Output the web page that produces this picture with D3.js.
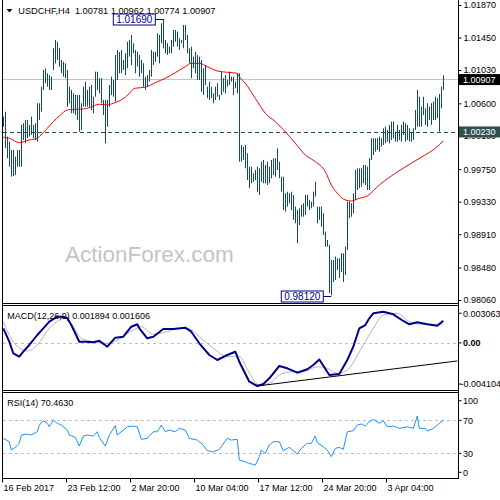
<!DOCTYPE html>
<html><head><meta charset="utf-8">
<script src="https://cdn.jsdelivr.net/npm/d3@7"></script>
<style>
body{margin:0;background:#fff;}
svg{display:block;font-family:"Liberation Sans",Arial,sans-serif;}
</style></head><body>
<svg id="c" width="500" height="500"></svg>
<script>
// ---------- DATA ----------
const symbolTitle = "USDCHF,H4";
const lastOHLC = [1.00781, 1.00962, 1.00774, 1.00907];
const dateIdx = [0, 32, 64, 96, 128, 160, 192];
const dateLabels = ["16 Feb 2017","23 Feb 12:00","2 Mar 20:00","10 Mar 04:00","17 Mar 12:00","24 Mar 20:00","3 Apr 04:00"];
const priceTicks = [1.01870,1.01450,1.01030,1.00600,1.00180,0.99750,0.99330,0.98910,0.98480,0.98060];
const levelLine = 1.00230;
const high = [
1.00428,1.00492,1.00170,1.00105,0.99998,0.99998,0.99911,0.99998,0.99998,1.00321,
1.00343,1.00385,1.00385,1.00321,1.00428,1.00321,1.00343,1.00601,1.00601,1.00815,
1.01031,1.01053,1.00988,1.00966,1.00944,1.01311,1.01418,1.01396,1.01311,1.01160,
1.01138,1.01117,1.01031,1.00815,1.00773,1.00730,1.00708,1.00708,1.00708,1.00601,
1.00815,1.00880,1.00773,1.00815,1.00837,1.00686,1.01009,1.01009,1.00924,1.00924,
1.00644,1.00644,1.00644,1.00837,1.00944,1.00902,1.01225,1.01289,1.01263,1.01289,
1.01160,1.01247,1.01396,1.01418,1.01483,1.01376,1.01289,1.01267,1.01225,1.01160,
1.01117,1.00944,1.00966,1.01031,1.01289,1.01267,1.01267,1.01505,1.01483,1.01634,
1.01690,1.01418,1.01376,1.01332,1.01418,1.01548,1.01548,1.01526,1.01440,1.01418,
1.01612,1.01612,1.01483,1.01311,1.01332,1.01203,1.01267,1.01225,1.01203,1.01160,
1.01053,1.01096,1.00815,1.00880,1.00815,1.00730,1.00815,1.00859,1.00708,1.01009,
1.00924,1.00966,1.00902,1.01009,1.00944,1.00944,1.00880,1.00988,1.00988,1.00062,
1.00040,1.00062,0.99955,0.99782,0.99782,0.99697,0.99739,0.99782,0.99761,0.99847,
0.99869,0.99804,0.99847,0.99782,0.99869,0.99891,0.99891,1.00020,0.99847,0.99653,
0.99653,0.99439,0.99459,0.99439,0.99459,0.99417,0.99266,0.99223,0.99245,0.99287,
0.99309,0.99417,0.99417,0.99352,0.99330,0.99459,0.99588,0.99266,0.99266,0.99266,
0.99180,0.98943,0.98835,0.98771,0.98577,0.98577,0.98620,0.98599,0.98599,0.98664,
0.98664,0.98749,0.99330,0.99330,0.99309,0.99439,0.99739,0.99761,0.99761,0.99761,
0.99804,0.99804,0.99782,0.99891,1.00149,1.00149,1.00149,1.00149,1.00170,1.00149,
1.00278,1.00299,1.00256,1.00321,1.00363,1.00363,1.00234,1.00321,1.00256,1.00321,
1.00363,1.00343,1.00321,1.00278,1.00234,1.00278,1.00514,1.00773,1.00686,1.00557,
1.00686,1.00536,1.00601,1.00557,1.00601,1.00622,1.00686,1.00665,1.00721,1.00815,
1.00962];
const low = [
1.00299,1.00020,0.99891,0.99782,0.99653,0.99662,0.99675,0.99782,0.99782,0.99782,
1.00127,1.00084,1.00149,1.00170,1.00192,1.00149,1.00127,1.00105,1.00385,1.00492,
1.00773,1.00859,1.00815,1.00773,1.00773,1.01031,1.01117,1.01160,1.01074,1.00988,
1.00944,1.00924,1.00557,1.00601,1.00472,1.00472,1.00450,1.00385,1.00234,1.00256,
1.00557,1.00557,1.00557,1.00557,1.00514,1.00472,1.00686,1.00773,1.00730,1.00601,
1.00450,1.00084,1.00299,1.00557,1.00708,1.00686,1.00622,1.00902,1.00988,1.00988,
1.01031,1.00966,1.01053,1.01203,1.01096,1.01247,1.00988,1.01074,1.00944,1.00988,
1.00815,1.00773,1.00815,1.00880,1.00944,1.01096,1.01138,1.01203,1.01117,1.01376,
1.01311,1.01247,1.01225,1.01247,1.01247,1.01332,1.01396,1.01332,1.01289,1.01376,
1.01311,1.01418,1.01247,1.01117,1.00924,1.01053,1.00988,1.00902,1.00902,1.00751,
1.00708,1.00837,1.00665,1.00644,1.00665,1.00601,1.00644,1.00686,1.00644,1.00708,
1.00751,1.00730,1.00815,1.00837,1.00880,1.00708,1.00795,1.00730,0.99847,0.99847,
0.99869,0.99761,0.99610,0.99503,0.99568,0.99588,0.99610,0.99459,0.99417,0.99588,
0.99568,0.99568,0.99546,0.99568,0.99632,0.99675,0.99653,0.99739,0.99632,0.99459,
0.99223,0.99201,0.99266,0.99309,0.99223,0.99094,0.99051,0.98793,0.99029,0.99136,
0.99136,0.99158,0.99266,0.99223,0.99245,0.99266,0.99395,0.99051,0.99094,0.99007,
0.98900,0.98749,0.98749,0.98151,0.98120,0.98293,0.98319,0.98448,0.98345,0.98422,
0.98293,0.98383,0.98706,0.99116,0.99136,0.99180,0.99352,0.99481,0.99503,0.99524,
0.99568,0.99546,0.99481,0.99481,0.99869,0.99933,0.99976,0.99998,0.99976,1.00040,
1.00062,1.00084,1.00105,1.00084,1.00127,1.00149,1.00105,1.00105,1.00127,1.00105,
1.00192,1.00105,1.00127,1.00105,1.00105,1.00127,1.00256,1.00299,1.00299,1.00299,
1.00450,1.00321,1.00299,1.00385,1.00321,1.00385,1.00385,1.00411,1.00234,1.00536,
1.00774];
const maIdx = [0,3,8,13,17,18,22,25,28,32,35,40,43,48,52,55,58,61,66,71,76,81,86,91,94,98,102,107,112,117,118,121,126,131,136,141,146,151,156,161,164,167,171,174,178,182,188,196,204,209,216,220];
const maVal = [1.00162,1.00149,1.00092,1.00127,1.00149,1.00170,1.00278,1.00363,1.00437,1.00514,1.00523,1.00527,1.00544,1.00588,1.00579,1.00601,1.00631,1.00678,1.00795,1.00808,1.00867,1.00924,1.00996,1.01074,1.01117,1.01117,1.01074,1.01018,1.01001,1.00988,1.00944,1.00859,1.00665,1.00472,1.00363,1.00234,1.00084,0.99933,0.99847,0.99718,0.99546,0.99439,0.99352,0.99339,0.99374,0.99404,0.99546,0.99697,0.99826,0.99904,1.00020,1.00114];
const highLabel = {i: 80, v: 1.01690, text: "1.01690"};
const lowLabel = {i: 164, v: 0.98120, text: "0.98120"};

const macdTitle = "MACD(12,26,9) 0.001894 0.001606";
const macdIdx = [0,3,5,8,10,13,17,20,23,27,29,32,34,38,41,45,48,52,56,60,64,67,68,72,75,80,85,91,94,98,103,107,112,116,118,123,127,130,133,138,142,147,152,155,158,163,168,172,175,178,181,183,185,190,195,200,203,207,212,217,220];
const macdVal = [0.001246,0.000102,-0.000887,-0.001177,-0.000751,-0.000179,0.000674,0.001246,0.001809,0.002235,0.002235,0.002099,0.001527,0.000102,0.000102,0.000051,0.000188,-0.000324,0.000444,0.000529,0.001382,0.001587,0.001246,0.000392,0.000529,0.001186,0.001186,0.001297,0.000956,-0.000034,-0.001032,-0.001459,-0.001032,-0.000751,-0.001604,-0.003310,-0.003677,-0.003507,-0.003020,-0.001971,-0.002167,-0.002542,-0.002252,-0.001886,-0.001416,-0.002739,-0.002653,-0.001459,-0.000324,0.001246,0.001527,0.002099,0.002525,0.002662,0.002440,0.001869,0.001587,0.001758,0.001587,0.001468,0.001894];
const sigIdx = [0,5,12,17,23,28,31,35,39,45,52,58,65,69,75,82,88,93,98,105,112,118,123,128,133,138,145,150,157,162,167,172,180,185,190,197,203,210,217,220];
const sigVal = [0.001809,0.000102,-0.000691,-0.000179,0.001246,0.001954,0.002150,0.001382,0.000392,0.000102,-0.000034,0.000333,0.001101,0.001382,0.000734,0.000956,0.001246,0.001186,0.000529,-0.000461,-0.001177,-0.001177,-0.002570,-0.003592,-0.003447,-0.002739,-0.002457,-0.002457,-0.002031,-0.002167,-0.002594,-0.002312,-0.000179,0.001246,0.002380,0.002525,0.001809,0.001587,0.001587,0.001606];
const macdTicks = [0.003063, 0, -0.004104];
const macdTickLabels = ["0.003063", "0.00", "-0.004104"];
const trendIdx = [127, 227];
const trendVal = [-0.00368, -0.00154];

const rsiTitle = "RSI(14) 70.4630";
const rsiIdx = [0,3,4,6,8,9,12,14,17,18,20,22,23,25,27,29,32,33,36,38,40,42,45,47,48,51,53,56,57,60,62,65,67,69,72,75,77,79,81,83,86,88,91,93,97,100,102,105,108,112,114,117,118,121,123,126,128,129,131,133,135,138,140,143,147,149,152,154,156,157,160,162,164,166,168,170,172,175,177,179,181,183,185,188,190,192,195,198,202,205,207,208,211,212,215,217,220];
const rsiVal = [48.2,44.1,34.0,37.3,42.1,52.2,53.4,52.2,56.2,64.3,69.5,66.4,62.2,70.4,66.4,64.3,58.2,52.2,49.4,38.8,51.0,52.2,51.0,56.2,49.4,38.8,52.2,63.5,52.2,58.2,62.2,63.1,62.2,47.0,48.2,56.2,56.2,64.3,56.2,58.2,56.2,60.3,58.2,48.2,46.1,40.1,33.2,31.9,34.8,48.2,46.1,47.0,21.9,19.8,17.9,15.8,25.9,34.0,30.0,40.1,44.1,44.1,33.2,37.3,29.2,36.1,42.1,42.1,51.0,42.8,38.0,34.0,25.9,36.1,37.3,34.8,56.2,57.4,64.3,65.5,63.1,68.3,71.2,66.4,69.5,62.2,63.1,60.3,62.2,60.3,75.2,60.3,60.3,57.0,60.3,64.3,70.463];
const rsiTicks = [100, 70, 30, 0];
const rsiLevels = [70, 30];
const watermark = "ActionForex.com";

// ---------- LAYOUT ----------
const L = 2.5, R = 458.5;
const svg = d3.select("#c");
const x = d3.scaleLinear().domain([0, 220]).range([3.3, 443.3]);
const yP = d3.scaleLinear().domain([0.98060, 1.01870]).range([300, 5]);
const yM = d3.scaleLinear().domain([-0.004104, 0.003063]).range([391, 307]);
const yR = d3.scaleLinear().domain([0, 100]).range([478.1, 395.6]);
const FS = 9;

const defs = svg.append("defs");
function clip(id, y0, y1) {
  defs.append("clipPath").attr("id", id).append("rect")
    .attr("x", 3).attr("y", y0).attr("width", R - 3).attr("height", y1 - y0);
}
clip("cMain", 0, 303);
clip("cMacd", 306, 390);
clip("cRsi", 393, 478);

// watermark
svg.append("text").attr("x", 65).attr("y", 262).attr("font-size", 22.5)
  .attr("fill", "#c4c4c4").text(watermark);

// ---------- MAIN PANEL ----------
const gMain = svg.append("g").attr("clip-path", "url(#cMain)");
gMain.append("line").attr("x1", 3).attr("x2", R).attr("y1", yP(lastOHLC[3])).attr("y2", yP(lastOHLC[3]))
  .attr("stroke", "#c0c0c0").attr("stroke-width", 1);
gMain.append("line").attr("x1", 3).attr("x2", R).attr("y1", Math.round(yP(levelLine)) + 0.5).attr("y2", Math.round(yP(levelLine)) + 0.5)
  .attr("stroke", "#2f4f4f").attr("stroke-width", 1).attr("stroke-dasharray", "4,3");
const maPts = maIdx.map((d, k) => [d, maVal[k]]);
gMain.append("path").datum(maPts)
  .attr("d", d3.line().x(d => x(d[0])).y(d => yP(d[1])).curve(d3.curveMonotoneX))
  .attr("fill", "none").attr("stroke", "#ff0000").attr("stroke-width", 1);
gMain.selectAll("rect.bar").data(high.map((h, i) => ({i, h, l: low[i]}))).join("rect")
  .attr("class", "bar")
  .attr("x", d => Math.floor(x(d.i)))
  .attr("width", 1)
  .attr("y", d => yP(d.h))
  .attr("height", d => Math.max(1, yP(d.l) - yP(d.h)))
  .attr("fill", "#0e4a6c");

function boxLabel(lbl, yc) {
  const bx = x(lbl.i);
  const w = 42, h = 11;
  const x1 = bx - 8;
  svg.append("line").attr("x1", x1).attr("x2", bx).attr("y1", yc).attr("y2", yc)
    .attr("stroke", "#00008b").attr("stroke-width", 1);
  svg.append("rect").attr("x", x1 - w).attr("y", yc - h / 2).attr("width", w).attr("height", h)
    .attr("fill", "#fff").attr("stroke", "#00008b").attr("stroke-width", 1);
  svg.append("text").attr("x", x1 - w / 2).attr("y", yc + 3.6).attr("text-anchor", "middle")
    .attr("font-size", 10).attr("fill", "#00008b").text(lbl.text);
}
boxLabel(highLabel, Math.round(yP(highLabel.v)) + 0.5);
boxLabel(lowLabel, Math.round(yP(lowLabel.v)) + 1.5);

const axP = svg.append("g").attr("transform", `translate(${R},0)`)
  .call(d3.axisRight(yP).tickValues(priceTicks).tickFormat(d3.format(".5f")).tickSize(3).tickPadding(2));
axP.select(".domain").remove();
axP.selectAll("text").attr("font-size", FS).attr("font-family", "Liberation Sans, Arial, sans-serif").attr("fill", "#000");
axP.selectAll("line").attr("stroke", "#000");

function tag(v, bg) {
  const yc = yP(v);
  svg.append("rect").attr("x", R + 0.5).attr("y", yc - 5.5).attr("width", 42).attr("height", 11).attr("fill", bg);
  svg.append("text").attr("x", 463).attr("y", yc + 3.3).attr("font-size", FS).attr("fill", "#fff").text(d3.format(".5f")(v));
}
tag(levelLine, "#2f4f4f");
tag(lastOHLC[3], "#000");

svg.append("path").attr("d", "M6.5,9L12.5,9L9.5,12.5Z").attr("fill", "#000");
svg.append("text").attr("x", 18.3).attr("y", 13.5).attr("font-size", 9.2).attr("fill", "#000")
  .attr("xml:space", "preserve")
  .text(symbolTitle + "  " + lastOHLC.map(d3.format(".5f")).join(" "));

// ---------- MACD PANEL ----------
const gM = svg.append("g").attr("clip-path", "url(#cMacd)");
gM.append("line").attr("x1", 3).attr("x2", R).attr("y1", Math.round(yM(0)) + 0.5).attr("y2", Math.round(yM(0)) + 0.5)
  .attr("stroke", "#c0c0c0").attr("stroke-dasharray", "3,3");
gM.append("path").datum(sigIdx.map((d, k) => [d, sigVal[k]]))
  .attr("d", d3.line().x(d => x(d[0])).y(d => yM(d[1])).curve(d3.curveMonotoneX))
  .attr("fill", "none").attr("stroke", "#b4b4b4").attr("stroke-width", 1);
gM.append("path").datum(macdIdx.map((d, k) => [d, macdVal[k]]))
  .attr("d", d3.line().x(d => x(d[0])).y(d => yM(d[1])))
  .attr("fill", "none").attr("stroke", "#00008b").attr("stroke-width", 2).attr("stroke-linejoin", "round");
gM.append("path").datum(trendIdx.map((d, k) => [d, trendVal[k]]))
  .attr("d", d3.line().x(d => x(d[0])).y(d => yM(d[1])))
  .attr("fill", "none").attr("stroke", "#000").attr("stroke-width", 1);
svg.append("text").attr("x", 7.3).attr("y", 319).attr("font-size", FS).text(macdTitle);
macdTicks.forEach((v, k) => {
  const yc = Math.max(313.3, Math.min(384, yM(v)));
  svg.append("text").attr("x", v < 0 ? 460.5 : 463).attr("y", yc + 3.3).attr("font-size", FS)
    .attr("font-weight", v === 0 ? "bold" : "normal").text(macdTickLabels[k]);
  svg.append("line").attr("x1", R).attr("x2", R + 3).attr("y1", yc).attr("y2", yc).attr("stroke", "#000");
});

// ---------- RSI PANEL ----------
const gR = svg.append("g").attr("clip-path", "url(#cRsi)");
rsiLevels.forEach(v => {
  gR.append("line").attr("x1", 3).attr("x2", R).attr("y1", Math.round(yR(v)) + 0.5).attr("y2", Math.round(yR(v)) + 0.5)
    .attr("stroke", "#c0c0c0").attr("stroke-dasharray", "3,3");
});
gR.append("path").datum(rsiIdx.map((d, k) => [d, rsiVal[k]]))
  .attr("d", d3.line().x(d => x(d[0])).y(d => yR(d[1])))
  .attr("fill", "none").attr("stroke", "#1e90ff").attr("stroke-width", 1);
svg.append("text").attr("x", 7.3).attr("y", 406).attr("font-size", FS).text(rsiTitle);
rsiTicks.forEach(v => {
  const yc = Math.max(400.7, Math.min(472.3, yR(v)));
  svg.append("text").attr("x", 463).attr("y", yc + 3.3).attr("font-size", FS).text(v);
  svg.append("line").attr("x1", R).attr("x2", R + 3).attr("y1", yc).attr("y2", yc).attr("stroke", "#000");
});

// ---------- DATE AXIS ----------
const axD = svg.append("g").attr("transform", "translate(0,478.5)")
  .call(d3.axisBottom(x).tickValues(dateIdx).tickFormat((d, k) => dateLabels[k]).tickSize(4).tickPadding(2));
axD.select(".domain").remove();
axD.selectAll(".tick").attr("transform", d => `translate(${Math.floor(x(d)) - 0.5},0)`);
axD.selectAll("text").attr("text-anchor", "start").attr("dx", 1).attr("font-size", FS)
  .attr("font-family", "Liberation Sans, Arial, sans-serif").attr("fill", "#000");
axD.selectAll("line").attr("stroke", "#000");

// ---------- FRAMES ----------
const frame = svg.append("g").attr("stroke", "#000").attr("stroke-width", 1);
frame.append("line").attr("x1", L).attr("x2", L).attr("y1", 0).attr("y2", 479);
frame.append("line").attr("x1", R).attr("x2", R).attr("y1", 0).attr("y2", 479);
[303.5, 305.5, 390.5, 392.5, 478.5].forEach(yy => {
  frame.append("line").attr("x1", L).attr("x2", R).attr("y1", yy).attr("y2", yy);
});
</script>
</body></html>
